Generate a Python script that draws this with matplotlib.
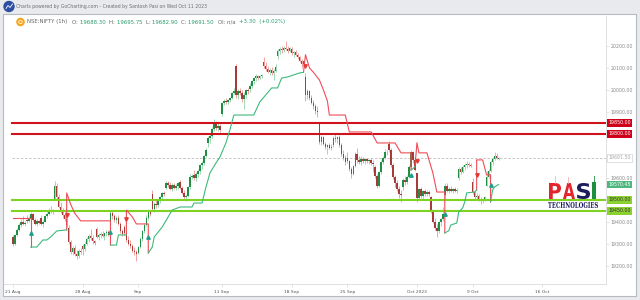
import matplotlib
matplotlib.use('Agg')
import matplotlib.pyplot as plt
import numpy as np
from matplotlib.font_manager import FontProperties
from matplotlib.patches import Rectangle, Circle, PathPatch
from matplotlib.textpath import TextPath
from matplotlib.transforms import Affine2D

# NIFTY 1h candles, 21 Aug - 10 Oct 2023 (one line = one session, 7 bars)
opens = [
    19330, 19300, 19340, 19365, 19385, 19400, 19392,
    19410, 19405, 19420, 19435, 19410, 19392, 19405,
    19420, 19392, 19402, 19425, 19438, 19455, 19448,
    19505, 19565, 19512, 19470, 19450, 19432, 19415,
    19372, 19310, 19262, 19282, 19255, 19245, 19268,
    19290, 19275, 19302, 19322, 19335, 19328, 19312,
    19370, 19332, 19340, 19345, 19338, 19348, 19355,
    19395, 19440, 19425, 19410, 19420, 19392, 19358,
    19375, 19350, 19318, 19302, 19290, 19270, 19262,
    19258, 19285, 19322, 19358, 19388, 19420, 19445,
    19525, 19460, 19482, 19475, 19498, 19512, 19530,
    19555, 19578, 19568, 19550, 19570, 19555, 19562,
    19580, 19555, 19530, 19512, 19520, 19558, 19605,
    19615, 19600, 19618, 19632, 19658, 19668, 19700,
    19760, 19782, 19790, 19822, 19845, 19825, 19838,
    19891, 19940, 19950, 19945, 19955, 19962, 19985,
    20110, 19975, 19995, 19985, 19958, 19975, 19998,
    20005, 20020, 20040, 20052, 20065, 20055, 20062,
    20127, 20108, 20095, 20082, 20090, 20078, 20088,
    20156, 20178, 20188, 20180, 20192, 20185, 20178,
    20185, 20168, 20172, 20160, 20148, 20130, 20118,
    20060, 19975, 19995, 19962, 19942, 19925, 19902,
    19845, 19762, 19785, 19755, 19740, 19748, 19738,
    19748, 19782, 19775, 19785, 19748, 19710, 19690,
    19690, 19675, 19640, 19618, 19655, 19708, 19680,
    19674, 19688, 19675, 19685, 19678, 19682, 19670,
    19650, 19610, 19565, 19625, 19672, 19690, 19720,
    19755, 19728, 19660, 19605, 19575, 19550, 19528,
    19560, 19592, 19580, 19605, 19650, 19720, 19680,
    19622, 19508, 19548, 19518, 19540, 19528, 19538,
    19512, 19450, 19402, 19372, 19360, 19398, 19412,
    19521, 19565, 19542, 19550, 19540, 19548, 19542,
    19600, 19640, 19628, 19650, 19660, 19665, 19658,
    19580, 19535, 19512, 19520, 19505, 19498, 19502,
    19565, 19605, 19632, 19672, 19688, 19700, 19688.30,
]
highs = [
    19340, 19345, 19372, 19395, 19412, 19425, 19405,
    19430, 19428, 19444, 19440, 19418, 19412, 19410,
    19430, 19410, 19430, 19445, 19462, 19472, 19458,
    19586, 19575, 19525, 19490, 19462, 19445, 19425,
    19388, 19320, 19290, 19295, 19272, 19275, 19280,
    19300, 19310, 19330, 19345, 19367, 19340, 19318,
    19377, 19350, 19355, 19360, 19352, 19365, 19362,
    19452, 19450, 19438, 19425, 19430, 19400, 19370,
    19388, 19365, 19335, 19318, 19300, 19285, 19272,
    19290, 19330, 19365, 19395, 19430, 19458, 19455,
    19545, 19490, 19500, 19505, 19520, 19535, 19540,
    19588, 19585, 19580, 19575, 19578, 19572, 19580,
    19590, 19565, 19545, 19528, 19565, 19619, 19618,
    19636, 19625, 19640, 19665, 19675, 19705, 19737,
    19790, 19800, 19830, 19867, 19858, 19850, 19845,
    19945, 19958, 19962, 19960, 19970, 19992, 20008,
    20118, 20005, 20010, 20000, 19990, 20005, 20008,
    20030, 20045, 20060, 20072, 20070, 20070, 20072,
    20150, 20125, 20110, 20098, 20102, 20095, 20120,
    20185, 20195, 20200, 20198, 20222, 20200, 20195,
    20195, 20176, 20180, 20170, 20155, 20140, 20138,
    20077, 20005, 20000, 19975, 19955, 19935, 19925,
    19848, 19795, 19790, 19765, 19755, 19760, 19752,
    19790, 19798, 19792, 19795, 19758, 19725, 19705,
    19718, 19682, 19650, 19660, 19720, 19734, 19700,
    19699, 19695, 19690, 19692, 19688, 19690, 19680,
    19660, 19620, 19630, 19680, 19700, 19731, 19728,
    19766, 19735, 19670, 19615, 19590, 19565, 19545,
    19600, 19610, 19615, 19660, 19726, 19724, 19695,
    19623, 19555, 19560, 19545, 19550, 19545, 19545,
    19517, 19460, 19418, 19392, 19405, 19420, 19468,
    19576, 19575, 19560, 19562, 19555, 19560, 19555,
    19650, 19652, 19660, 19668, 19675, 19672, 19670,
    19600, 19545, 19530, 19528, 19515, 19510, 19520,
    19630, 19640, 19680, 19695, 19717, 19712, 19695.75,
]
lows = [
    19290, 19296, 19335, 19360, 19378, 19385, 19382,
    19395, 19398, 19412, 19405, 19385, 19381, 19390,
    19385, 19377, 19398, 19418, 19432, 19440, 19438,
    19500, 19505, 19465, 19440, 19420, 19405, 19377,
    19300, 19255, 19250, 19245, 19230, 19238, 19255,
    19249, 19268, 19295, 19310, 19320, 19300, 19295,
    19325, 19318, 19325, 19330, 19320, 19335, 19335,
    19380, 19415, 19400, 19395, 19385, 19350, 19334,
    19340, 19310, 19295, 19280, 19262, 19250, 19223,
    19255, 19280, 19315, 19350, 19380, 19410, 19425,
    19450, 19445, 19465, 19468, 19488, 19505, 19518,
    19550, 19560, 19545, 19540, 19550, 19545, 19552,
    19550, 19525, 19505, 19495, 19515, 19550, 19595,
    19590, 19585, 19605, 19620, 19640, 19660, 19695,
    19741, 19760, 19780, 19815, 19818, 19812, 19810,
    19880, 19930, 19935, 19938, 19945, 19958, 19980,
    19965, 19960, 19975, 19945, 19914, 19965, 19980,
    19990, 20010, 20025, 20040, 20045, 20048, 20055,
    20100, 20085, 20075, 20068, 20070, 20044, 20080,
    20140, 20165, 20170, 20172, 20180, 20170, 20172,
    20160, 20150, 20155, 20140, 20125, 20098, 20110,
    19950, 19960, 19955, 19935, 19915, 19890, 19879,
    19755, 19750, 19748, 19730, 19709, 19730, 19725,
    19740, 19765, 19760, 19740, 19700, 19680, 19658,
    19668, 19630, 19601, 19612, 19650, 19670, 19662,
    19660, 19668, 19665, 19670, 19665, 19660, 19627,
    19600, 19553, 19560, 19620, 19665, 19685, 19705,
    19720, 19650, 19595, 19560, 19540, 19510, 19492,
    19545, 19570, 19572, 19600, 19640, 19670, 19630,
    19490, 19500, 19510, 19505, 19520, 19518, 19520,
    19440, 19395, 19365, 19333, 19352, 19380, 19405,
    19505, 19535, 19530, 19535, 19530, 19535, 19530,
    19590, 19620, 19622, 19638, 19645, 19650, 19648,
    19528, 19505, 19500, 19495, 19480, 19488, 19495,
    19565, 19600, 19628, 19660, 19680, 19685, 19682.90,
]
closes = [
    19300, 19340, 19365, 19385, 19400, 19392, 19393,
    19405, 19420, 19435, 19410, 19392, 19405, 19396,
    19392, 19402, 19425, 19438, 19455, 19448, 19444,
    19565, 19512, 19470, 19450, 19432, 19415, 19386,
    19310, 19262, 19282, 19255, 19245, 19268, 19265,
    19275, 19302, 19322, 19335, 19328, 19312, 19306,
    19332, 19340, 19345, 19338, 19348, 19355, 19342,
    19440, 19425, 19410, 19420, 19392, 19358, 19347,
    19350, 19318, 19302, 19290, 19270, 19262, 19253,
    19285, 19322, 19358, 19388, 19420, 19445, 19435,
    19460, 19482, 19475, 19498, 19512, 19530, 19528,
    19578, 19568, 19550, 19570, 19555, 19562, 19575,
    19555, 19530, 19512, 19520, 19558, 19605, 19611,
    19600, 19618, 19632, 19658, 19668, 19700, 19727,
    19782, 19790, 19822, 19845, 19825, 19838, 19820,
    19940, 19950, 19945, 19955, 19962, 19985, 19996,
    19975, 19995, 19985, 19958, 19975, 19998, 19993,
    20020, 20040, 20052, 20065, 20055, 20062, 20070,
    20108, 20095, 20082, 20090, 20078, 20088, 20103,
    20178, 20188, 20180, 20192, 20185, 20178, 20192,
    20168, 20172, 20160, 20148, 20130, 20118, 20133,
    19975, 19995, 19962, 19942, 19925, 19902, 19901,
    19762, 19785, 19755, 19740, 19748, 19738, 19742,
    19782, 19775, 19785, 19748, 19710, 19690, 19674,
    19675, 19640, 19618, 19655, 19708, 19680, 19674,
    19688, 19675, 19685, 19678, 19682, 19670, 19664,
    19610, 19565, 19625, 19672, 19690, 19720, 19716,
    19728, 19660, 19605, 19575, 19550, 19528, 19523,
    19592, 19580, 19605, 19650, 19720, 19680, 19638,
    19508, 19548, 19518, 19540, 19528, 19538, 19528,
    19450, 19402, 19372, 19360, 19398, 19412, 19436,
    19565, 19542, 19550, 19540, 19548, 19542, 19545,
    19640, 19628, 19650, 19660, 19665, 19658, 19653,
    19535, 19512, 19520, 19505, 19498, 19502, 19512,
    19605, 19632, 19672, 19688, 19700, 19692, 19691.50,
]

st_red = [
    [(0, 19418), (9, 19418), (9, 19286)],
    [(27, 19364), (27, 19532), (29, 19480), (31, 19440), (34, 19405), (49, 19405), (49, 19295)],
    [(57, 19341), (57, 19454), (60, 19423), (62, 19391), (68, 19391), (68, 19259)],
    [(146, 20080), (147, 20160), (149, 20100), (151, 20080), (154, 20045), (156, 20000),
     (158, 19950), (159, 19886), (167, 19886), (169, 19809), (180, 19809), (183, 19759),
     (192, 19759), (195, 19714), (200, 19714), (200, 19636)],
    [(202, 19650), (203, 19760), (204, 19714), (208, 19714), (211, 19623), (213, 19536),
     (217, 19536), (217, 19350)],
    [(233, 19545), (233, 19682), (236, 19682), (238, 19614), (240, 19614), (240, 19491)],
]
st_green = [
    [(9, 19286), (12, 19286), (15, 19318), (17, 19318), (19, 19332), (22, 19359), (27, 19364)],
    [(49, 19295), (52, 19295), (53, 19341), (57, 19341)],
    [(68, 19259), (70, 19286), (71, 19332), (75, 19377), (78, 19423), (80, 19454), (84, 19468),
     (90, 19468), (91, 19486), (95, 19486), (97, 19559), (99, 19623), (102, 19668), (104, 19695),
     (107, 19759), (109, 19818), (111, 19886), (121, 19886), (124, 19945), (127, 19977),
     (130, 20009), (133, 20009), (135, 20054), (138, 20059), (144, 20077), (146, 20080)],
    [(200, 19636), (202, 19650)],
    [(217, 19350), (219, 19360), (220, 19386), (223, 19395), (224, 19445), (226, 19464),
     (227, 19491), (228, 19532), (232, 19536), (233, 19545)],
    [(240, 19491), (241, 19545), (242, 19559), (244, 19570.45)],
]
buy_idx = [9, 49, 68, 200, 217, 240]
buy_val = [19350, 19355, 19332, 19614, 19436, 19568]
sell_idx = [27, 57, 147, 203, 233]
sell_val = [19430, 19414, 20110, 19677, 19614]

red_levels = [19850, 19800]
green_levels = [19500, 19450]
last_price = 19691.50
st_last = 19570.45

price_ticks = list(range(19200, 20300, 100))
hidden_ticks = [19500, 19700, 19800]  # sit under the level tags
tick_pos = [0, 35, 63, 105, 140, 168, 203, 231, 266]
tick_labels = ['21 Aug', '28 Aug', 'Sep', '11 Sep', '18 Sep', '25 Sep', 'Oct 2023', '9 Oct', '16 Oct']

W, H = 640, 300
fig = plt.figure(figsize=(6.4, 3.0), dpi=100)
fig.patch.set_facecolor('#e8eaed')


def px(x0, y0, x1, y1):
    return [x0 / W, 1 - y1 / H, (x1 - x0) / W, (y1 - y0) / H]


bg = fig.add_axes([0, 0, 1, 1], zorder=0)
bg.set_xlim(0, W)
bg.set_ylim(H, 0)
bg.axis('off')
bg.add_patch(Rectangle((3, 14), 633, 282, facecolor='white', edgecolor='#b5bac0', lw=0.8))

ax = fig.add_axes(px(4, 16, 606, 284), zorder=1)
ax.patch.set_alpha(0)

idx = np.arange(len(closes))
o, h, l, c = map(np.array, (opens, highs, lows, closes))
up = c >= o
dn = ~up
ax.vlines(idx[up], l[up], h[up], color='#9ed9b5', lw=0.7, zorder=2)
ax.vlines(idx[dn], l[dn], h[dn], color='#f3a3a3', lw=0.7, zorder=2)
ax.bar(idx[up], c[up] - o[up], bottom=o[up], width=0.75, color='#1f8f45', lw=0, zorder=3)
ax.bar(idx[dn], o[dn] - c[dn], bottom=c[dn], width=0.75, color='#a93a3a', lw=0, zorder=3)

for lv in red_levels:
    ax.axhline(lv, xmin=0.013, color='#d0121b', lw=1.5, zorder=4)
for lv in green_levels:
    ax.axhline(lv, xmin=0.013, color='#7ed321', lw=1.5, zorder=4)
ax.axhline(last_price, xmin=0.013, color='#bdbdbd', lw=0.6, ls=(0, (3, 2)), zorder=1)

for seg in st_red:
    xs, ys = zip(*seg)
    ax.plot(xs, ys, color='#ee4d57', lw=0.8, zorder=5)
for seg in st_green:
    xs, ys = zip(*seg)
    ax.plot(xs, ys, color='#3dba7c', lw=0.8, zorder=5)
ax.plot(buy_idx, buy_val, '^', color='#1fa08a', ms=2.5, lw=0, zorder=6)
ax.plot(sell_idx, sell_val, 'v', color='#e53935', ms=2.5, lw=0, zorder=6)

ax.set_xlim(-4.5, 298)
ax.set_ylim(19118, 20336)

ax.yaxis.tick_right()
ax.set_yticks(price_ticks)
ax.set_yticklabels(['' if v in hidden_ticks else f'{v:.2f}' for v in price_ticks])
ax.tick_params(axis='y', length=2, width=0.4, color='#cfcfcf', labelsize=3.4,
               labelcolor='#8a8a8a', pad=1.5)
ax.set_xticks(tick_pos)
ax.set_xticklabels(tick_labels)
ax.tick_params(axis='x', length=2, width=0.4, color='#cfcfcf', labelsize=3.2,
               labelcolor='#555555', pad=2.5)
for s in ('top', 'left'):
    ax.spines[s].set_visible(False)
for s in ('right', 'bottom'):
    ax.spines[s].set_color('#dcdcdc')
    ax.spines[s].set_linewidth(0.6)


def tag(y, txt, fc, tc, ec='none'):
    ax.text(1.004, y, txt, transform=ax.get_yaxis_transform(), ha='left', va='center',
            fontsize=3.4, color=tc, zorder=10, clip_on=False,
            bbox=dict(boxstyle='square,pad=0.3', fc=fc, ec=ec, lw=0.4))


for lv in red_levels:
    tag(lv, f'{lv:.2f}', '#d0021b', 'white')
tag(last_price, f'{last_price:.2f}', 'white', '#aaaaaa', '#c8c8c8')
tag(st_last, f'{st_last:.2f}', '#4cb87e', 'white')
for lv in green_levels:
    tag(lv, f'{lv:.2f}', '#8bd12f', '#333333')

# header, legend row and logo
deco = fig.add_axes([0, 0, 1, 1], zorder=2)
deco.set_xlim(0, W)
deco.set_ylim(H, 0)
deco.axis('off')

deco.add_patch(Circle((9, 6.5), 5, color='#2c4fa3'))
deco.plot([6, 8, 10, 12.5], [8.5, 5.5, 7.5, 4], color='white', lw=0.6)
deco.text(16, 6.5, 'Charts powered by GoCharting.com - Created by Santosh Pasi on Wed Oct 11 2023',
          fontsize=3.3, color='#707070', va='center')

deco.add_patch(Circle((20.5, 22), 3.6, color='#f5a623'))
deco.add_patch(Circle((20.5, 22), 1.7, fill=False, ec='white', lw=0.5))

gray, green = '#666666', '#2a9d6e'
parts = [('NSE:NIFTY (1h)   ', gray), ('O: ', gray), ('19688.30  ', green),
         ('H: ', gray), ('19695.75  ', green), ('L: ', gray), ('19682.90  ', green),
         ('C: ', gray), ('19691.50  ', green), ('OI: ', gray), ('n/a  ', gray),
         ('+3.30  (+0.02%)', green)]
t = deco.text(27, 22, parts[0][0], color=parts[0][1], fontsize=3.9, va='center')
for s, col in parts[1:]:
    t = deco.annotate(s, xy=(1, 0), xycoords=t, xytext=(0, 0), textcoords='offset points',
                      color=col, fontsize=3.9, ha='left', va='bottom')


def glyph(txt, x0, x1, y0, y1, color, family='DejaVu Sans'):
    path = TextPath((0, 0), txt, size=1, prop=FontProperties(family=family, weight='bold'))
    ext = path.get_extents()
    tr = Affine2D().translate(-ext.x0, -ext.y0).scale((x1 - x0) / ext.width,
                                                     -(y1 - y0) / ext.height).translate(x0, y1)
    deco.add_patch(PathPatch(tr.transform_path(path), color=color, lw=0))


deco.plot([555, 555], [176, 183], color='#f4b0b0', lw=0.6)
deco.plot([568, 568], [177, 183], color='#f4b0b0', lw=0.6)
glyph('P', 549, 561, 183, 199, '#e3262e')
glyph('A', 563, 575, 183, 199, '#e3262e')
glyph('S', 577, 590, 183, 199, '#1d1d5c')
deco.plot([593.5, 593.5], [176, 183], color='#1e8f3e', lw=0.6)
deco.add_patch(Rectangle((591.5, 182), 4.5, 17, color='#1e8f3e', lw=0))
glyph('TECHNOLOGIES', 548, 598, 202, 208, '#1d1d5c', family='DejaVu Serif')

fig.savefig('out.png', dpi=100, facecolor=fig.get_facecolor())
